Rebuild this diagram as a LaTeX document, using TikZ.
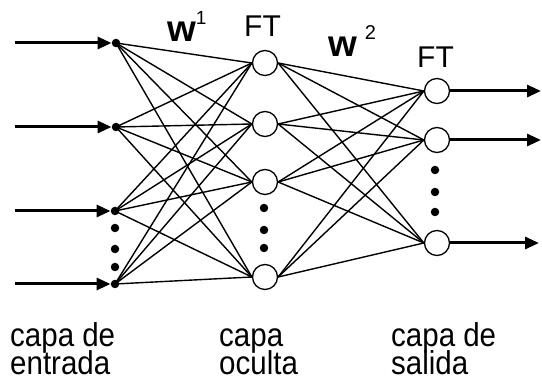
\documentclass[tikz,border=0pt]{standalone}
\usepackage{fontspec}
\setmainfont{Liberation Sans}
\usetikzlibrary{arrows.meta}
\newcommand{\twoline}[2]{\scalebox{1}[1.12]{\fontsize{29.5}{29.5}\selectfont\vtop{\lineskiplimit=-100pt\baselineskip=25pt\hbox{#1}\hbox{#2}}}}
\begin{document}
\begin{tikzpicture}[x=1pt,y=-1pt,
  inp/.style={circle,fill=black,inner sep=0pt,minimum size=8.5pt},
  edot/.style={circle,fill=black,inner sep=0pt,minimum size=8.5pt},
  neuron/.style={circle,draw=black,line width=1.3pt,fill=white,inner sep=0pt,minimum size=25pt},
  conn/.style={line width=1.4pt},
  io/.style={line width=3pt,-{Triangle[length=14pt,width=12pt]}},
  lbl/.style={inner sep=0pt,anchor=base west,align=left},
]
\useasboundingbox (0,0) rectangle (542,379);
% input layer
\node[inp] (i1) at (116,43) {};
\node[inp] (i2) at (116,127) {};
\node[inp] (i3) at (115,211) {};
\node[inp] (i4) at (115,284) {};
\node[edot] (ie1) at (115,228) {};
\node[edot] (ie2) at (115,249) {};
\node[edot] (ie3) at (115,267) {};
% hidden layer
\node[neuron] (h1) at (265,63) {};
\node[neuron] (h2) at (265,124) {};
\node[neuron] (h3) at (265,182) {};
\node[neuron] (h4) at (265,277) {};
\node[edot] (he1) at (264,208) {};
\node[edot] (he2) at (264,230) {};
\node[edot] (he3) at (264,248) {};
% output layer
\node[neuron] (o1) at (437,91) {};
\node[neuron] (o2) at (437,140) {};
\node[neuron] (o3) at (437,243) {};
\node[edot] (oe1) at (435,170) {};
\node[edot] (oe2) at (435,192) {};
\node[edot] (oe3) at (435,212) {};
% connections
\foreach \a in {1,2,3,4}{
  \foreach \b in {1,2,3,4}{
    \draw[conn] (i\a.center) -- (h\b.west);
  }
  \foreach \c in {1,2,3}{
    \draw[conn] (h\a.east) -- (o\c.west);
  }
}
% input arrows
\coordinate (s1) at (15,43);
\coordinate (s2) at (15,127);
\coordinate (s3) at (15,211);
\coordinate (s4) at (15,284);
\foreach \a in {1,2,3,4}{\draw[io] (s\a) -- (i\a);}
% output arrows
\coordinate (e1) at (541,91);
\coordinate (e2) at (541,140);
\coordinate (e3) at (539,243);
\foreach \c in {1,2,3}{\draw[io] (o\c) -- (e\c);}
% labels
\node[lbl] (w1) at (167,42) {{\fontsize{37}{40}\selectfont\bfseries w}\raisebox{17pt}{\fontsize{19}{19}\selectfont 1}};
\node[lbl] (w2) at (328,57) {{\fontsize{37}{40}\selectfont\bfseries w}\hspace{8pt}\raisebox{17pt}{\fontsize{20}{20}\selectfont 2}};
\node[lbl] (ft1) at (244,37) {\fontsize{30}{30}\selectfont FT};
\node[lbl] (ft2) at (417,68) {\fontsize{30}{30}\selectfont FT};
\node[lbl] (lin) at (10,347) {\twoline{capa de}{entrada}};
\node[lbl] (lhid) at (219,347) {\twoline{capa}{oculta}};
\node[lbl] (lout) at (391,347) {\twoline{capa de}{salida}};
\end{tikzpicture}
\end{document}
